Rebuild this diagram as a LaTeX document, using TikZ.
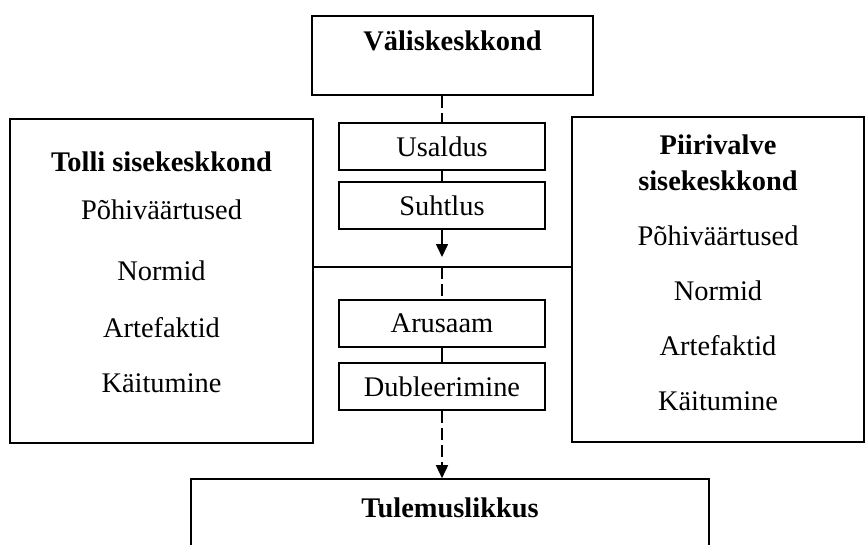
\documentclass[tikz,border=0pt]{standalone}
\usepackage{fontspec}
\setmainfont{Liberation Serif}
\usetikzlibrary{positioning,arrows.meta}
\tikzset{
	frame/.style={draw, line width=0.8pt, inner sep=0pt},
	smallbox/.style={draw, line width=0.8pt, inner sep=0pt, minimum width=103pt, minimum height=23.5pt, font=\fontsize{14.2}{17}\selectfont},
	heading/.style={inner sep=0pt, anchor=base, font=\fontsize{14.2}{17}\selectfont\bfseries},
	item/.style={inner sep=0pt, anchor=base, font=\fontsize{14.2}{17}\selectfont},
	link/.style={line width=0.8pt},
	dashes/.style={dash pattern=on 6pt off 2.5pt},
	tip/.style={-{Triangle[width=6pt,length=6.5pt]}}
}
\begin{document}
\begin{tikzpicture}[x=0.5pt,y=-0.5pt]
	\clip (0,0) rectangle (866,545);
	
	%outer boxes
	\node[frame, minimum width=140.5pt, minimum height=39.5pt] (valis) at (452.5,55.5) {};
	\node[frame, minimum width=151.5pt, minimum height=162pt] (tolli) at (161.5,281) {};
	\node[frame, minimum width=146pt, minimum height=162.5pt] (piiri) at (718,279.5) {};
	\node[frame, minimum width=259pt, minimum height=60pt] (tulem) at (450,539) {};
	
	%headings
	\node[heading] (valis-t) at (452.5,51) {Väliskeskkond};
	\node[heading] (tolli-t) at (161.5,172) {Tolli sisekeskkond};
	\node[heading] (piiri-t1) at (718,155) {Piirivalve};
	\node[heading] (piiri-t2) at (718,191) {sisekeskkond};
	\node[heading] (tulem-t) at (450,517) {Tulemuslikkus};
	
	%culture layers
	\foreach \y/\t [count=\i] in {220/Põhiväärtused, 280/Normid, 337/Artefaktid, 392/Käitumine}
	\node[item] (tolli-\i) at (161.5,\y) {\t};
	\foreach \y/\t [count=\i] in {245/Põhiväärtused, 300/Normid, 355/Artefaktid, 410/Käitumine}
	\node[item] (piiri-\i) at (718,\y) {\t};
	
	%middle boxes
	\node[smallbox] (usaldus) at (442,146.5) {Usaldus};
	\node[smallbox] (suhtlus) at (442,205.5) {Suhtlus};
	\node[smallbox] (arusaam) at (442,323.5) {Arusaam};
	\node[smallbox] (dubl) at (442,386.5) {Dubleerimine};
	
	\coordinate (stop) at (442,257);
	\coordinate (split) at (442,267);
	
	%connectors
	\draw[link, dashes] (usaldus.north |- valis.south) -- (usaldus.north);
	\draw[link] (usaldus) -- (suhtlus);
	\draw[link, tip] (suhtlus) -- (stop);
	\draw[link] (tolli.east |- split) -- (piiri.west |- split);
	\draw[link, dashes] (split) -- (arusaam);
	\draw[link] (arusaam) -- (dubl);
	\draw[link, dashes, tip] (dubl) -- (dubl.south |- tulem.north);
\end{tikzpicture}
\end{document}
